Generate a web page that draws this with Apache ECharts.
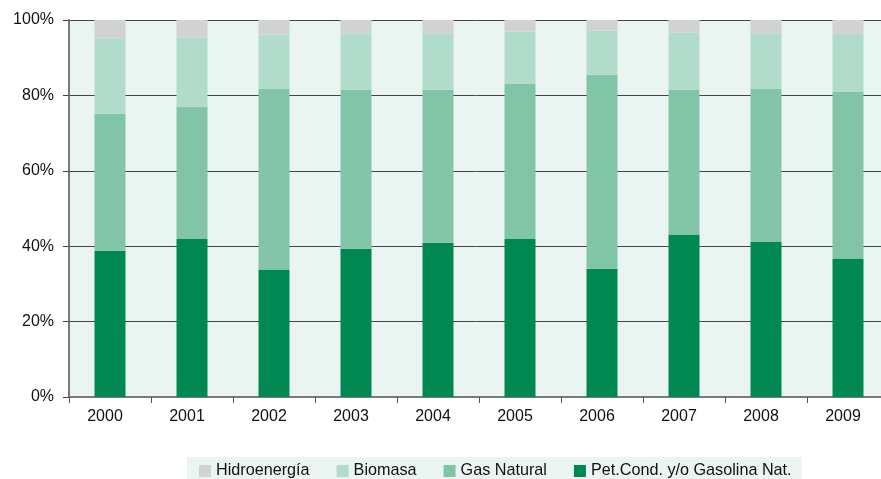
<!DOCTYPE html>
<html>
<head>
<meta charset="utf-8">
<script src="https://cdn.jsdelivr.net/npm/echarts@6/dist/echarts.min.js"></script>
<style>
  html, body { margin: 0; padding: 0; background: #fff; }
  #chart { width: 881px; height: 479px; }
</style>
</head>
<body>
<div id="chart"></div>
<script>
const years = ['2000', '2001', '2002', '2003', '2004', '2005', '2006', '2007', '2008', '2009']

// shares in % (each segment)
const petroleo = [38.8, 41.9, 33.7, 39.3, 40.9, 41.9, 34.0, 43.0, 41.1, 36.6]
const gasNatural = [36.3, 35.1, 48.1, 42.2, 40.6, 41.2, 51.5, 38.5, 40.7, 44.4]
const biomasa = [19.9, 18.3, 14.3, 14.9, 14.9, 13.8, 11.7, 15.1, 14.6, 15.4]
const hidro = [5.0, 4.7, 3.9, 3.6, 3.6, 3.1, 2.8, 3.4, 3.6, 3.6]

const seriesNames = ['Hidroenergía', 'Biomasa', 'Gas Natural', 'Pet.Cond. y/o Gasolina Nat.']
const colors = {
  'Hidroenergía': '#d1d2d4',
  'Biomasa': '#b1dbcb',
  'Gas Natural': '#81c4a8',
  'Pet.Cond. y/o Gasolina Nat.': '#008752',
}

const font = 'Liberation Sans, Arial, sans-serif'
const myChart = echarts.init(document.getElementById('chart'))

const makeBar = (name, values) => ({
  name,
  type: 'bar',
  stack: 'total',
  barWidth: 31,
  data: values,
  itemStyle: { color: colors[name] },
})

const option = {
  animation: false,
  textStyle: { fontFamily: font },
  grid: {
    left: 69,
    top: 20,
    width: 820,
    bottom: 82,
    outerBoundsMode: 'none',
    show: true,
    backgroundColor: '#eaf4f0',
    borderWidth: 0,
  },
  legend: {
    data: seriesNames,
    top: 457,
    left: 187,
    padding: [6, 10, 8, 12],
    backgroundColor: '#eaf4f0',
    itemWidth: 12,
    itemHeight: 12,
    itemGap: 27,
    icon: 'rect',
    textStyle: { fontSize: 16.2, color: '#111', fontFamily: font },
  },
  xAxis: {
    type: 'category',
    data: years,
    axisLine: { lineStyle: { color: '#7a7a7a', width: 2 } },
    axisTick: { show: true, length: 6, lineStyle: { color: '#555' } },
    axisLabel: { fontSize: 16, color: '#111', margin: 12, padding: [0, 10, 0, 0] },
  },
  yAxis: {
    type: 'value',
    min: 0,
    max: 100,
    interval: 20,
    axisLine: { show: true, lineStyle: { color: '#7a7a7a', width: 2 } },
    axisTick: { show: true, length: 6, lineStyle: { color: '#444' } },
    axisLabel: { fontSize: 16, color: '#111', margin: 15, formatter: '{value}%' },
    splitLine: { show: true, lineStyle: { color: '#444', width: 1 } },
  },
  series: [
    makeBar('Pet.Cond. y/o Gasolina Nat.', petroleo),
    makeBar('Gas Natural', gasNatural),
    makeBar('Biomasa', biomasa),
    makeBar('Hidroenergía', hidro),
  ],
}

myChart.setOption(option)
</script>
</body>
</html>
